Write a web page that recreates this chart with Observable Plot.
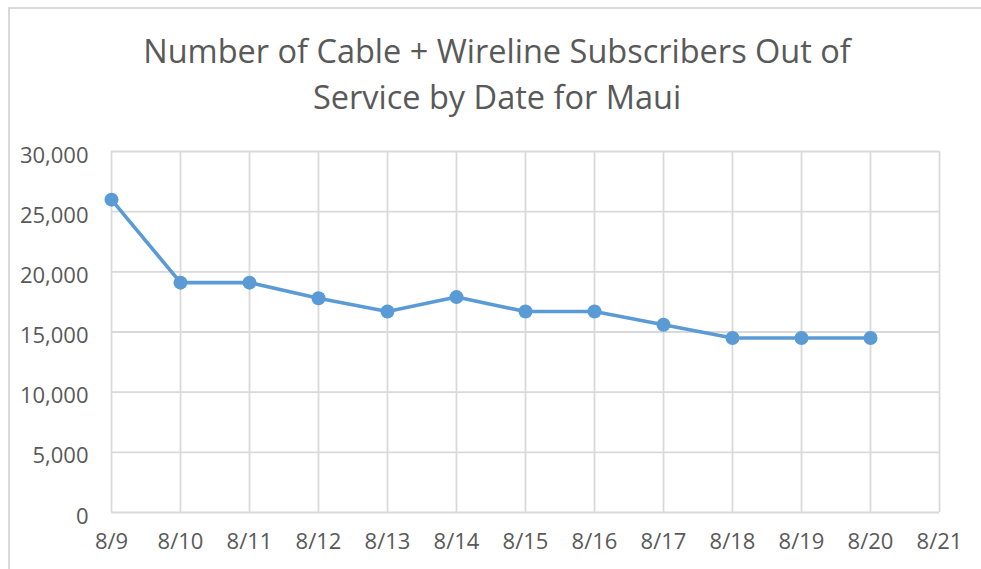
<!DOCTYPE html>
<html>
<head>
<meta charset="utf-8">
<script src="https://cdn.jsdelivr.net/npm/d3@7"></script>
<script src="https://cdn.jsdelivr.net/npm/@observablehq/plot@0.6"></script>
<style>
  html, body { margin: 0; padding: 0; background: #fff; width: 981px; height: 569px; overflow: hidden; }
  #wrap { position: relative; width: 981px; height: 569px; }
  #frame { position: absolute; left: 8px; top: 7px; width: 1000px; height: 700px;
           border-left: 2px solid #d9d9d9; border-top: 2px solid #d9d9d9; box-sizing: border-box; }
  #title { position: absolute; left: 8px; top: 0; width: 978px; height: 140px; text-align: center;
           font-family: "Open Sans", sans-serif; font-size: 32.5px; color: #595959; line-height: 46px;
           padding-top: 28px; box-sizing: border-box; white-space: nowrap; }
  #chart { position: absolute; left: 0; top: 140px; }
</style>
</head>
<body>
<div id="wrap">
  <div id="frame"></div>
  <div id="title">Number of Cable + Wireline Subscribers Out of<br>Service by Date for Maui</div>
  <div id="chart"></div>
</div>
<script>
const titleText = "Number of Cable + Wireline Subscribers Out of Service by Date for Maui";
const dates = ["8/9","8/10","8/11","8/12","8/13","8/14","8/15","8/16","8/17","8/18","8/19","8/20"];
const subscribers = [26000, 19100, 19100, 17800, 16700, 17900, 16700, 16700, 15600, 14500, 14500, 14500];
const xTicks = ["8/9","8/10","8/11","8/12","8/13","8/14","8/15","8/16","8/17","8/18","8/19","8/20","8/21"];
const yTicks = [0, 5000, 10000, 15000, 20000, 25000, 30000];

const data = dates.map((d, i) => ({date: d, value: subscribers[i]}));
const lineColor = "#5b9bd5";
const gridColor = "#d9d9d9";

const chart = Plot.plot({
  width: 981,
  height: 429,
  marginTop: 11,
  marginBottom: 57,
  marginLeft: 111,
  marginRight: 42,
  style: { fontFamily: "'Open Sans', sans-serif", fontSize: "22px", color: "#595959", background: "transparent" },
  x: { type: "point", domain: xTicks, padding: 0 },
  y: { domain: [0, 30000] },
  marks: [
    Plot.gridX(xTicks, { stroke: gridColor, strokeOpacity: 1, strokeWidth: 1.8 }),
    Plot.gridY(yTicks, { stroke: gridColor, strokeOpacity: 1, strokeWidth: 1.8 }),
    Plot.axisX(xTicks, { tickSize: 0, tickPadding: 21, label: null, fill: "#595959", fontSize: 22 }),
    Plot.axisY(yTicks, { tickSize: 0, tickPadding: 23, label: null, fill: "#595959", fontSize: 22,
      tickFormat: d => d3.format(",")(d), dy: 4 }),
    Plot.line(data, { x: "date", y: "value", stroke: lineColor, strokeWidth: 3.6 }),
    Plot.dot(data, { x: "date", y: "value", fill: lineColor, r: 7 })
  ]
});
document.getElementById("chart").appendChild(chart);
</script>
</body>
</html>
